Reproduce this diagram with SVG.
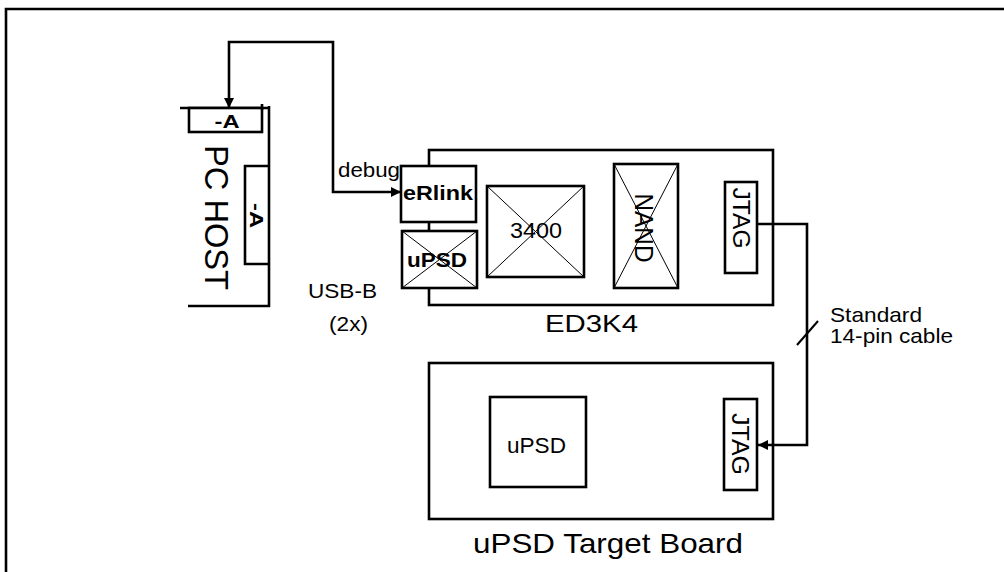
<svg xmlns="http://www.w3.org/2000/svg" width="1004" height="572" viewBox="0 0 1004 572">
<defs>
<marker id="arr" viewBox="0 0 10 10" refX="10" refY="5" markerWidth="4" markerHeight="4" orient="auto-start-reverse" markerUnits="strokeWidth">
<path d="M0,0 L10,5 L0,10 z" fill="#000"/>
</marker>
<style>
.box{fill:#fff;stroke:#000;stroke-width:2.6}
.line{fill:none;stroke:#000;stroke-width:2.6}
.x{stroke:#000;stroke-width:1}
.conn{fill:none;stroke:#000;stroke-width:2.6}
text{font-family:"Liberation Sans",Arial,sans-serif;fill:#000}
.b{font-weight:bold}
</style>
</defs>
<rect width="1004" height="572" fill="#fff"/>
<path class="line" d="M6,574 V9 H1006" stroke-width="2"/>

<g id="pc-host">
<path class="line" d="M180,108 H270 M269,106 V307 M188,306 H270"/>
<rect class="box" x="189" y="108" width="73" height="24"/>
<path class="line" d="M262,104 V110"/>
<text class="b" x="227" y="128" font-size="18" text-anchor="middle" textLength="25" lengthAdjust="spacingAndGlyphs">-A</text>
<path class="line" d="M269,166 H245 V264 H269"/>
<text class="b" transform="translate(250,215.5) rotate(90)" font-size="18" text-anchor="middle" textLength="25" lengthAdjust="spacingAndGlyphs">-A</text>
<text transform="translate(205,217.5) rotate(90)" font-size="34" text-anchor="middle" textLength="145" lengthAdjust="spacingAndGlyphs">PC HOST</text>
</g>

<g id="ed3k4">
<rect class="box" x="429" y="150" width="344" height="155"/>
<text x="591.5" y="332" font-size="24" text-anchor="middle" textLength="93" lengthAdjust="spacingAndGlyphs">ED3K4</text>
</g>
<g id="erlink">
<rect class="box" x="401" y="166" width="75" height="56"/>
<text class="b" x="438" y="200" font-size="20" text-anchor="middle" textLength="70" lengthAdjust="spacingAndGlyphs">eRlink</text>
</g>
<g id="upsd-small">
<rect class="box" x="402" y="231" width="75" height="57"/>
<path class="x" d="M402,231 L477,288 M477,231 L402,288"/>
<text class="b" x="437" y="267" font-size="20" text-anchor="middle" textLength="60" lengthAdjust="spacingAndGlyphs">uPSD</text>
</g>
<g id="chip-3400">
<rect class="box" x="487" y="186" width="97" height="91"/>
<path class="x" d="M487,186 L584,277 M584,186 L487,277"/>
<text x="536" y="238" font-size="22" text-anchor="middle" textLength="52" lengthAdjust="spacingAndGlyphs">3400</text>
</g>
<g id="nand">
<rect class="box" x="614" y="164" width="64" height="124"/>
<path class="x" d="M614,164 L678,288 M678,164 L614,288"/>
<text transform="translate(635,228) rotate(90)" font-size="26" text-anchor="middle" textLength="69" lengthAdjust="spacingAndGlyphs">NAND</text>
</g>
<g id="jtag-ed3k4">
<rect class="box" x="725" y="182" width="32" height="91"/>
<text transform="translate(733,218) rotate(90)" font-size="24" text-anchor="middle" textLength="61" lengthAdjust="spacingAndGlyphs">JTAG</text>
</g>

<g id="target-board">
<rect class="box" x="429" y="363" width="344" height="156"/>
<text x="608" y="553" font-size="28" text-anchor="middle" textLength="270" lengthAdjust="spacingAndGlyphs">uPSD Target Board</text>
</g>
<g id="upsd-target">
<rect class="box" x="490" y="397" width="96" height="90"/>
<text x="536.5" y="453" font-size="22" text-anchor="middle" textLength="59" lengthAdjust="spacingAndGlyphs">uPSD</text>
</g>
<g id="jtag-target">
<rect class="box" x="724" y="399" width="33" height="91"/>
<text transform="translate(732,444) rotate(90)" font-size="24" text-anchor="middle" textLength="62" lengthAdjust="spacingAndGlyphs">JTAG</text>
</g>

<g id="connectors">
<path class="conn" d="M401,192 H333 V42 H229 V108" marker-start="url(#arr)" marker-end="url(#arr)"/>
<path class="conn" d="M757,224 H807 V445 H758" marker-end="url(#arr)"/>
<path d="M797,345 L818,321" stroke="#000" stroke-width="2"/>
<text x="338" y="177" font-size="20" textLength="62" lengthAdjust="spacingAndGlyphs">debug</text>
<text x="308" y="298" font-size="21" textLength="69" lengthAdjust="spacingAndGlyphs">USB-B</text>
<text x="329" y="331" font-size="21" textLength="39" lengthAdjust="spacingAndGlyphs">(2x)</text>
<text x="830" y="322" font-size="21" textLength="92" lengthAdjust="spacingAndGlyphs">Standard</text>
<text x="830" y="343" font-size="21" textLength="123" lengthAdjust="spacingAndGlyphs">14-pin cable</text>
</g>
</svg>
